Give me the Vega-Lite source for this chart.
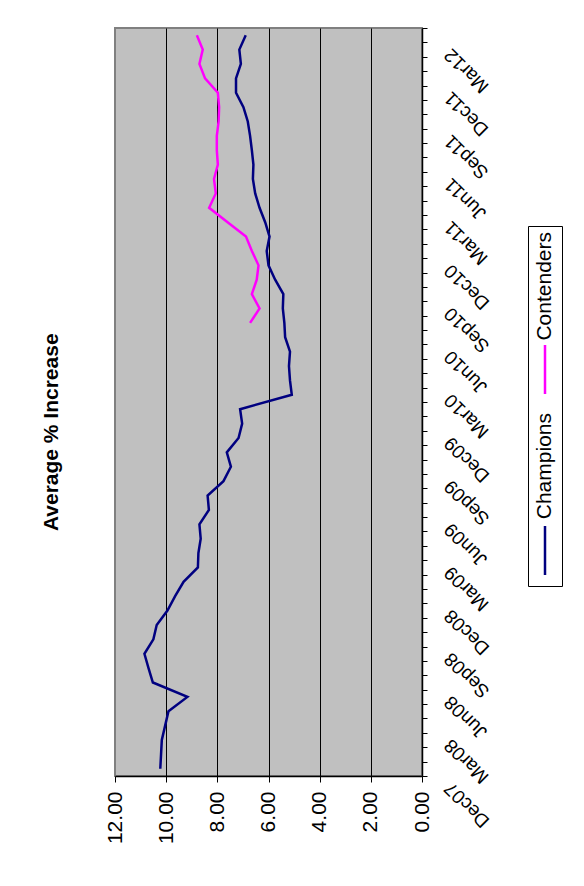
{
  "$schema": "https://vega.github.io/schema/vega-lite/v6.json",
  "autosize": {"type": "none"},
  "width": 307,
  "height": 748,
  "padding": {"left": 115, "top": 28, "right": 162, "bottom": 110},
  "background": "white",
  "title": {"text": "Average % Increase", "orient": "left", "anchor": "middle", "frame": "bounds", "fontSize": 21, "fontWeight": "bold", "font": "Liberation Sans", "color": "black", "offset": 42},
  "config": {
    "view": {"fill": "#c0c0c0", "stroke": "#808080", "strokeWidth": 2},
    "font": "Liberation Sans"
  },
  "data": {"values": [
    {"date": "2007-12-15", "series": "Champions", "value": 10.23},
    {"date": "2008-01-15", "series": "Champions", "value": 10.2},
    {"date": "2008-02-15", "series": "Champions", "value": 10.17},
    {"date": "2008-03-15", "series": "Champions", "value": 10.04},
    {"date": "2008-04-15", "series": "Champions", "value": 9.91},
    {"date": "2008-05-15", "series": "Champions", "value": 9.17},
    {"date": "2008-06-15", "series": "Champions", "value": 10.52},
    {"date": "2008-07-15", "series": "Champions", "value": 10.69},
    {"date": "2008-08-15", "series": "Champions", "value": 10.85},
    {"date": "2008-09-15", "series": "Champions", "value": 10.5},
    {"date": "2008-10-15", "series": "Champions", "value": 10.37},
    {"date": "2008-11-15", "series": "Champions", "value": 9.95},
    {"date": "2008-12-15", "series": "Champions", "value": 9.65},
    {"date": "2009-01-15", "series": "Champions", "value": 9.32},
    {"date": "2009-02-15", "series": "Champions", "value": 8.76},
    {"date": "2009-03-15", "series": "Champions", "value": 8.74},
    {"date": "2009-04-15", "series": "Champions", "value": 8.65},
    {"date": "2009-05-15", "series": "Champions", "value": 8.7},
    {"date": "2009-06-15", "series": "Champions", "value": 8.33},
    {"date": "2009-07-15", "series": "Champions", "value": 8.38},
    {"date": "2009-08-15", "series": "Champions", "value": 7.76},
    {"date": "2009-09-15", "series": "Champions", "value": 7.47},
    {"date": "2009-10-15", "series": "Champions", "value": 7.63},
    {"date": "2009-11-15", "series": "Champions", "value": 7.17},
    {"date": "2009-12-15", "series": "Champions", "value": 7.03},
    {"date": "2010-01-15", "series": "Champions", "value": 7.11},
    {"date": "2010-02-15", "series": "Champions", "value": 5.09},
    {"date": "2010-03-15", "series": "Champions", "value": 5.16},
    {"date": "2010-04-15", "series": "Champions", "value": 5.2},
    {"date": "2010-05-15", "series": "Champions", "value": 5.16},
    {"date": "2010-06-15", "series": "Champions", "value": 5.35},
    {"date": "2010-07-15", "series": "Champions", "value": 5.38},
    {"date": "2010-08-15", "series": "Champions", "value": 5.44},
    {"date": "2010-09-15", "series": "Champions", "value": 5.42},
    {"date": "2010-10-15", "series": "Champions", "value": 5.74},
    {"date": "2010-11-15", "series": "Champions", "value": 6.0},
    {"date": "2010-12-15", "series": "Champions", "value": 6.07},
    {"date": "2011-01-15", "series": "Champions", "value": 5.96},
    {"date": "2011-02-15", "series": "Champions", "value": 6.13},
    {"date": "2011-03-15", "series": "Champions", "value": 6.35},
    {"date": "2011-04-15", "series": "Champions", "value": 6.52},
    {"date": "2011-05-15", "series": "Champions", "value": 6.61},
    {"date": "2011-06-15", "series": "Champions", "value": 6.59},
    {"date": "2011-07-15", "series": "Champions", "value": 6.65},
    {"date": "2011-08-15", "series": "Champions", "value": 6.72},
    {"date": "2011-09-15", "series": "Champions", "value": 6.81},
    {"date": "2011-10-15", "series": "Champions", "value": 6.98},
    {"date": "2011-11-15", "series": "Champions", "value": 7.27},
    {"date": "2011-12-15", "series": "Champions", "value": 7.27},
    {"date": "2012-01-15", "series": "Champions", "value": 7.08},
    {"date": "2012-02-15", "series": "Champions", "value": 7.14},
    {"date": "2012-03-15", "series": "Champions", "value": 6.89},
    {"date": "2010-07-15", "series": "Contenders", "value": 6.72},
    {"date": "2010-08-15", "series": "Contenders", "value": 6.35},
    {"date": "2010-09-15", "series": "Contenders", "value": 6.65},
    {"date": "2010-10-15", "series": "Contenders", "value": 6.46},
    {"date": "2010-11-15", "series": "Contenders", "value": 6.39},
    {"date": "2010-12-15", "series": "Contenders", "value": 6.65},
    {"date": "2011-01-15", "series": "Contenders", "value": 6.88},
    {"date": "2011-02-15", "series": "Contenders", "value": 7.6},
    {"date": "2011-03-15", "series": "Contenders", "value": 8.32},
    {"date": "2011-04-15", "series": "Contenders", "value": 8.06},
    {"date": "2011-05-15", "series": "Contenders", "value": 8.13},
    {"date": "2011-06-15", "series": "Contenders", "value": 7.98},
    {"date": "2011-07-15", "series": "Contenders", "value": 8.02},
    {"date": "2011-08-15", "series": "Contenders", "value": 8.02},
    {"date": "2011-09-15", "series": "Contenders", "value": 7.95},
    {"date": "2011-10-15", "series": "Contenders", "value": 7.93},
    {"date": "2011-11-15", "series": "Contenders", "value": 7.98},
    {"date": "2011-12-15", "series": "Contenders", "value": 8.48},
    {"date": "2012-01-15", "series": "Contenders", "value": 8.7},
    {"date": "2012-02-15", "series": "Contenders", "value": 8.57},
    {"date": "2012-03-15", "series": "Contenders", "value": 8.8}
  ]},
  "mark": {"type": "line", "strokeWidth": 2.5},
  "encoding": {
    "x": {
      "field": "value", "type": "quantitative",
      "scale": {"domain": [0, 12], "reverse": true, "nice": false, "zero": true},
      "axis": {
        "title": null, "orient": "bottom", "values": [0, 2, 4, 6, 8, 10, 12], "format": ".2f",
        "labelAngle": 270, "labelAlign": "right", "labelBaseline": "middle",
        "labelFontSize": 21, "labelColor": "black", "labelPadding": 9,
        "tickColor": "black", "tickSize": 6, "domainColor": "black", "domainWidth": 1.5,
        "grid": true, "gridColor": {"condition": {"test": "datum.value == 0 || datum.value == 12", "value": "transparent"}, "value": "black"},
        "gridWidth": 1, "gridOpacity": 1, "labelOverlap": false, "labelFlush": false, "labelBound": false
      }
    },
    "y": {
      "field": "date", "timeUnit": "yearmonth", "type": "ordinal", "sort": "descending",
      "bandPosition": 0.5,
      "scale": {"type": "band", "paddingInner": 0, "paddingOuter": 0},
      "axis": {
        "title": null, "orient": "right", "tickBand": "extent",
        "labelExpr": "month(datum.value) % 3 == 2 ? timeFormat(datum.value, '%b%y') : ''",
        "labelAngle": 225, "labelAlign": "right", "labelBaseline": "middle",
        "labelFontSize": 19, "labelColor": "black", "labelPadding": 20, "labelOffset": 16,
        "tickColor": "black", "tickSize": 5, "domainColor": "black", "domainWidth": 1.5,
        "grid": false, "labelOverlap": false, "labelBound": false, "labelFlush": false
      }
    },
    "color": {
      "field": "series", "type": "nominal",
      "scale": {"domain": ["Contenders", "Champions"], "range": ["#ff00ff", "#000080"]},
      "legend": {
        "title": null, "orient": "none", "legendX": 413, "legendY": 198, "direction": "vertical",
        "strokeColor": "black", "fillColor": "white", "padding": 6,
        "symbolType": "M0,-1L0,1", "symbolSize": 2401, "symbolStrokeWidth": 2.5,
        "labelFontSize": 21, "labelColor": "black", "labelLimit": 0, "rowPadding": 13,
        "encode": {
          "symbols": {"update": {"x": {"value": 11}, "y": {"value": 137.5}}},
          "labels": {"update": {
            "angle": {"value": 270}, "align": {"value": "right"}, "baseline": {"value": "middle"},
            "x": {"value": 11}, "y": {"value": 0}
          }}
        }
      }
    },
    "order": {"field": "date", "type": "temporal"}
  }
}
